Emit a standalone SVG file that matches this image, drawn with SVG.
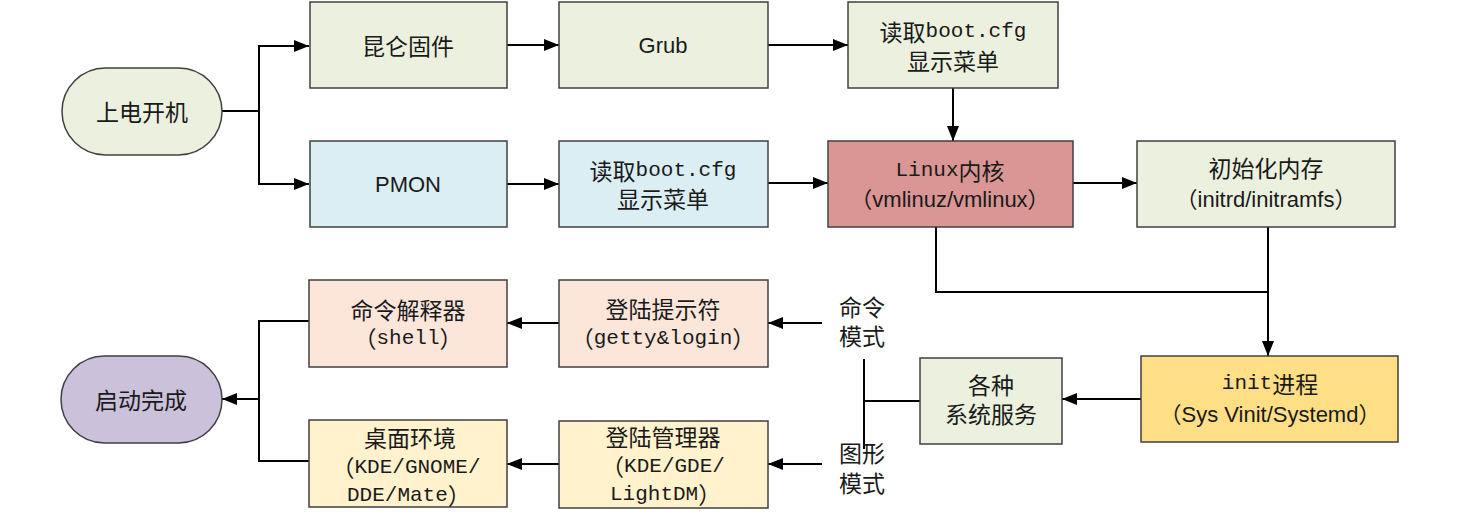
<svg xmlns="http://www.w3.org/2000/svg" width="1482" height="528" viewBox="0 0 1482 528">
<style>
.box{stroke:#404040;stroke-width:1.5}
.g{fill:#ebf1de}.b{fill:#dbeef4}.r{fill:#d99694}.p{fill:#fce6da}.y{fill:#fff2cc}.o{fill:#ffdf85}.v{fill:#ccc1da}
text{font-family:"Noto Sans CJK SC",sans-serif;font-size:23px;fill:#1a1a1a;text-anchor:middle;dominant-baseline:central}
.s{font-family:"Liberation Sans","Noto Sans CJK SC",sans-serif;font-size:22px}
.m{font-family:"Liberation Mono",monospace;font-size:21px}
.c{fill:none;stroke:#000;stroke-width:2}
</style>
<defs>
<marker id="ah" viewBox="0 0 15 12" refX="15" refY="6" markerWidth="15" markerHeight="12" markerUnits="userSpaceOnUse" orient="auto">
<path d="M0,0 L15,6 L0,12 Z" fill="#000"/>
</marker>
</defs>
<rect width="1482" height="528" fill="#fff"/>
<g id="connectors">
<path class="c" d="M222,111 H259 V46 H309" marker-end="url(#ah)"/>
<path class="c" d="M259,111 V184 H309" marker-end="url(#ah)"/>
<path class="c" d="M507,45 H559" marker-end="url(#ah)"/>
<path class="c" d="M768,45 H848" marker-end="url(#ah)"/>
<path class="c" d="M953,88 V141" marker-end="url(#ah)"/>
<path class="c" d="M507,184 H559" marker-end="url(#ah)"/>
<path class="c" d="M768,183 H828" marker-end="url(#ah)"/>
<path class="c" d="M1073,183 H1137" marker-end="url(#ah)"/>
<path class="c" d="M936,227 V292 H1268"/>
<path class="c" d="M1268,227 V356" marker-end="url(#ah)"/>
<path class="c" d="M1141,399 H1062" marker-end="url(#ah)"/>
<path class="c" d="M920,401 H864 M864,359 V449"/>
<path class="c" d="M822,323 H768" marker-end="url(#ah)"/>
<path class="c" d="M822,464 H768" marker-end="url(#ah)"/>
<path class="c" d="M559,323 H507" marker-end="url(#ah)"/>
<path class="c" d="M559,464 H507" marker-end="url(#ah)"/>
<path class="c" d="M309,321 H259 V461 H309"/>
<path class="c" d="M259,399 H222" marker-end="url(#ah)"/>
</g>
<g id="n_power"><rect class="box g" x="62" y="68" width="160" height="87" rx="43.5"/><text x="142" y="111">上电开机</text></g>
<g id="n_kunlun"><rect class="box g" x="310" y="2" width="197" height="86"/><text x="408" y="45">昆仑固件</text></g>
<g id="n_grub"><rect class="box g" x="559" y="2" width="209" height="86"/><text class="s" x="663" y="45">Grub</text></g>
<g id="n_cfg1"><rect class="box g" x="848" y="2" width="210" height="86"/><text x="953" y="31">读取<tspan class="m">boot.cfg</tspan><tspan x="953" dy="29">显示菜单</tspan></text></g>
<g id="n_pmon"><rect class="box b" x="310" y="141" width="197" height="86"/><text class="s" x="408" y="184">PMON</text></g>
<g id="n_cfg2"><rect class="box b" x="559" y="141" width="209" height="86"/><text x="663" y="170">读取<tspan class="m">boot.cfg</tspan><tspan x="663" dy="28">显示菜单</tspan></text></g>
<g id="n_linux"><rect class="box r" x="828" y="141" width="245" height="86"/><text x="950" y="170"><tspan class="m">Linux</tspan>内核<tspan class="s" x="950" dy="29">（vmlinuz/vmlinux）</tspan></text></g>
<g id="n_initrd"><rect class="box g" x="1137" y="141" width="258" height="86"/><text x="1266" y="167">初始化内存<tspan class="s" x="1266" dy="32">（initrd/initramfs）</tspan></text></g>
<g id="n_init"><rect class="box o" x="1141" y="356" width="257" height="86"/><text x="1270" y="383"><tspan class="m">init</tspan>进程<tspan class="s" x="1270" dy="31">（Sys Vinit/Systemd）</tspan></text></g>
<g id="n_services"><rect class="box g" x="920" y="358" width="142" height="86"/><text x="991" y="384">各种<tspan x="991" dy="29">系统服务</tspan></text></g>
<g id="n_cmdmode"><text x="862" y="306">命令<tspan x="862" dy="29">模式</tspan></text></g>
<g id="n_guimode"><text x="862" y="452">图形<tspan x="862" dy="30">模式</tspan></text></g>
<g id="n_login"><rect class="box p" x="559" y="280" width="209" height="87"/><text x="663" y="308">登陆提示符<tspan x="663" dy="30">（</tspan><tspan class="m">getty&amp;login</tspan>）</text></g>
<g id="n_dm"><rect class="box y" x="559" y="421" width="209" height="87"/><text x="663" y="436">登陆管理器<tspan x="663" dy="30">（</tspan><tspan class="m">KDE/GDE/</tspan><tspan x="610" dy="28" style="text-anchor:start" class="m">LightDM</tspan>）</text></g>
<g id="n_shell"><rect class="box p" x="309" y="280" width="198" height="87"/><text x="408" y="309">命令解释器<tspan x="408" dy="29">（</tspan><tspan class="m">shell</tspan>）</text></g>
<g id="n_desktop"><rect class="box y" x="309" y="420" width="198" height="87"/><text x="410" y="437">桌面环境<tspan x="406" dy="30">（</tspan><tspan class="m">KDE/GNOME/</tspan><tspan x="347" dy="28" style="text-anchor:start" class="m">DDE/Mate</tspan>）</text></g>
<g id="n_done"><rect class="box v" x="61" y="356" width="161" height="87" rx="43.5"/><text x="141" y="399">启动完成</text></g>
</svg>
